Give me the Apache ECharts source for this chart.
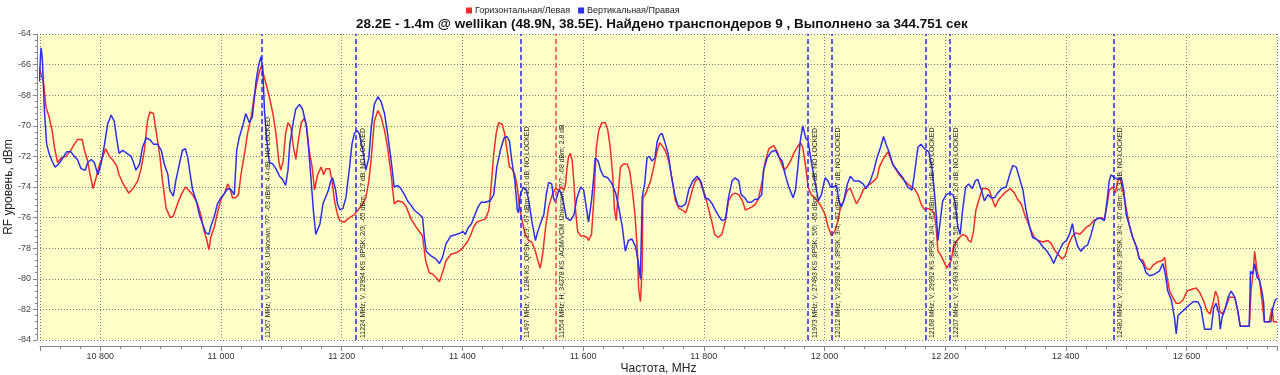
<!DOCTYPE html>
<html><head><meta charset="utf-8">
<script src="https://cdn.jsdelivr.net/npm/echarts@6/dist/echarts.min.js"></script>
<style>html,body{margin:0;padding:0;background:#fff}#c{width:1280px;height:375px}</style>
</head><body><div id="c"></div>
<script>
const titleText = '28.2E - 1.4m @ wellikan (48.9N, 38.5E). Найдено транспондеров 9 , Выполнено за 344.751 сек';
const seriesNames = ['Горизонтальная/Левая', 'Вертикальная/Правая'];
const xAxisName = 'Частота, MHz';
const yAxisName = 'RF уровень, dBm';

const freqH = [10699,10703,10706,10710,10715,10720,10724,10729,10735,10743,10751,10757,10762,10770,10773,10779,10783,10788,10793,10798,10804,10809,10815,10820,10827,10831,10838,10847,10854,10862,10867,10873,10878,10882,10888,10893,10899,10903,10909,10916,10921,10928,10934,10941,10946,10953,10961,10967,10972,10976,10980,10983,10989,10994,11000,11006,11011,11015,11019,11024,11029,11033,11039,11044,11050,11055,11060,11064,11067,11070,11075,11080,11086,11091,11096,11099,11103,11107,11111,11116,11120,11124,11128,11133,11138,11142,11146,11151,11155,11160,11166,11170,11174,11180,11184,11188,11193,11197,11204,11213,11221,11227,11235,11240,11245,11249,11254,11260,11265,11271,11276,11282,11287,11293,11301,11307,11315,11323,11334,11339,11345,11351,11356,11362,11367,11373,11381,11390,11398,11402,11408,11413,11419,11424,11430,11438,11444,11448,11452,11456,11460,11466,11470,11474,11478,11482,11487,11491,11494,11499,11504,11510,11515,11521,11525,11529,11533,11538,11543,11549,11554,11560,11564,11568,11571,11573,11576,11579,11582,11585,11587,11591,11596,11601,11607,11609,11614,11618,11622,11626,11631,11637,11641,11645,11649,11652,11655,11658,11662,11667,11673,11677,11681,11686,11690,11692,11695,11698,11699,11703,11708,11712,11717,11723,11727,11731,11736,11742,11748,11753,11759,11764,11770,11775,11781,11786,11792,11797,11802,11807,11813,11818,11824,11830,11836,11841,11847,11852,11858,11864,11869,11875,11880,11886,11891,11897,11902,11908,11916,11922,11927,11933,11938,11944,11949,11955,11960,11964,11969,11973,11978,11984,11990,11995,12001,12006,12012,12017,12021,12027,12032,12038,12043,12049,12053,12059,12064,12069,12076,12082,12087,12091,12097,12105,12110,12116,12124,12133,12141,12149,12155,12160,12166,12171,12177,12182,12185,12188,12192,12197,12203,12206,12210,12214,12218,12224,12229,12235,12239,12243,12247,12251,12257,12262,12268,12273,12279,12283,12289,12296,12301,12308,12315,12320,12326,12331,12337,12343,12348,12354,12362,12370,12376,12381,12387,12394,12399,12405,12411,12417,12423,12428,12435,12440,12446,12451,12459,12464,12468,12472,12478,12482,12486,12490,12493,12497,12502,12506,12511,12517,12522,12528,12533,12539,12545,12552,12560,12564,12567,12572,12577,12583,12588,12594,12601,12608,12616,12622,12628,12634,12639,12644,12648,12652,12655,12659,12665,12671,12680,12685,12689,12696,12704,12707,12711,12713,12717,12721,12725,12729,12737,12742,12744,12750];
const levelH = [-66.2,-66.8,-67.2,-68.8,-69.4,-70.3,-71.4,-72.4,-72.1,-72.0,-71.6,-71.2,-70.9,-70.9,-71.5,-72.3,-73.2,-74.1,-73.4,-72.6,-72.0,-71.5,-72.0,-72.2,-72.6,-73.2,-73.8,-74.4,-74.1,-73.6,-72.9,-71.6,-69.7,-69.1,-69.2,-70.5,-72.1,-73.6,-75.4,-76.0,-75.9,-75.1,-74.5,-74.0,-74.2,-74.5,-75.1,-75.9,-76.9,-77.4,-78.1,-77.3,-76.6,-75.7,-74.8,-74.4,-73.8,-74.1,-74.7,-74.7,-74.5,-73.2,-71.8,-70.5,-69.4,-68.1,-67.1,-66.4,-66.1,-66.6,-67.3,-68.1,-69.2,-70.5,-72.4,-72.9,-72.3,-70.5,-69.8,-70.1,-71.4,-72.2,-71.0,-69.8,-69.5,-70.1,-71.6,-72.7,-74.2,-73.2,-72.7,-73.2,-72.8,-72.8,-73.6,-74.9,-75.8,-76.2,-76.3,-76.0,-75.8,-75.5,-75.1,-74.7,-73.6,-72.1,-69.7,-69.0,-69.4,-70.3,-71.4,-73.2,-75.1,-74.9,-75.0,-75.3,-76.1,-76.6,-77.2,-78.8,-79.6,-79.7,-79.9,-80.2,-79.6,-78.8,-78.4,-78.3,-78.1,-77.9,-77.6,-77.2,-76.6,-76.3,-76.2,-76.1,-75.5,-73.8,-71.8,-70.5,-69.8,-69.9,-70.5,-71.6,-72.7,-72.8,-73.2,-74.0,-75.1,-76.2,-77.1,-77.5,-77.6,-78.2,-78.8,-79.3,-78.4,-76.6,-75.3,-74.5,-74.1,-74.2,-74.0,-74.2,-73.8,-72.9,-72.0,-71.8,-72.3,-73.8,-75.3,-76.9,-77.2,-77.2,-77.3,-77.5,-77.1,-74.7,-71.4,-70.3,-69.8,-69.8,-70.3,-71.4,-73.2,-75.5,-76.2,-74.5,-72.7,-72.5,-72.5,-72.9,-74.0,-75.8,-78.2,-80.6,-81.5,-79.3,-74.7,-74.5,-74.0,-73.6,-72.7,-71.6,-71.1,-71.3,-71.6,-72.3,-73.6,-74.9,-75.4,-75.5,-75.7,-75.1,-74.2,-73.6,-73.4,-74.0,-74.5,-75.3,-76.2,-77.1,-77.3,-77.1,-76.2,-74.9,-74.5,-74.4,-74.5,-74.9,-75.5,-75.4,-75.3,-75.1,-74.7,-73.6,-72.3,-71.5,-71.3,-71.7,-72.3,-72.9,-72.7,-72.3,-71.8,-71.4,-71.1,-71.4,-72.7,-74.0,-74.5,-74.7,-75.0,-75.3,-75.8,-76.6,-77.2,-76.9,-76.4,-75.3,-74.9,-74.2,-74.1,-74.7,-75.1,-74.7,-74.2,-74.0,-73.8,-73.6,-73.4,-72.7,-72.2,-71.7,-72.2,-72.7,-73.2,-73.6,-73.9,-74.1,-74.5,-75.1,-75.5,-75.4,-75.5,-75.7,-76.6,-78.2,-78.4,-78.8,-79.3,-79.4,-78.8,-77.9,-77.6,-77.3,-77.1,-77.2,-77.5,-77.6,-76.9,-75.5,-74.7,-74.1,-74.1,-74.2,-74.9,-75.3,-74.8,-74.5,-74.3,-74.1,-74.4,-74.8,-75.1,-75.7,-76.3,-76.9,-77.3,-77.5,-77.6,-77.5,-77.7,-78.1,-78.4,-78.7,-78.5,-77.7,-77.2,-77.0,-77.1,-76.9,-76.6,-76.5,-76.2,-76.1,-76.0,-76.1,-75.3,-74.2,-74.0,-74.4,-73.6,-73.4,-73.5,-74.7,-75.8,-76.6,-77.3,-77.9,-78.7,-78.8,-79.3,-79.4,-79.1,-78.9,-78.8,-78.6,-79.7,-80.8,-81.2,-81.6,-81.6,-81.4,-80.8,-80.7,-80.6,-80.9,-81.4,-82.1,-82.3,-81.6,-80.8,-81.2,-82.1,-82.3,-81.9,-81.2,-81.2,-82.1,-83.1,-83.1,-83.1,-80.8,-79.3,-78.2,-79.5,-80.1,-81.4,-82.8,-82.8,-81.9,-82.8,-82.8];

const freqV = [10699,10701,10702,10704,10707,10711,10715,10720,10725,10731,10738,10744,10751,10757,10762,10768,10775,10779,10785,10790,10796,10801,10807,10812,10818,10823,10827,10831,10837,10844,10851,10855,10859,10865,10870,10876,10882,10888,10895,10901,10906,10912,10915,10921,10925,10931,10936,10941,10945,10949,10953,10959,10964,10970,10975,10980,10983,10989,10994,11000,11006,11011,11017,11022,11026,11030,11036,11041,11047,11052,11058,11062,11066,11069,11072,11076,11080,11086,11091,11097,11102,11107,11111,11114,11120,11124,11130,11135,11141,11145,11149,11153,11157,11160,11164,11169,11174,11178,11182,11185,11190,11193,11197,11202,11207,11213,11217,11221,11225,11229,11235,11240,11245,11249,11254,11260,11265,11271,11276,11282,11287,11293,11298,11304,11309,11315,11320,11329,11334,11337,11340,11348,11356,11362,11367,11373,11381,11390,11397,11401,11405,11409,11415,11420,11426,11431,11438,11446,11452,11457,11463,11469,11474,11478,11482,11487,11491,11493,11496,11501,11506,11510,11515,11521,11525,11531,11535,11539,11543,11548,11551,11554,11560,11564,11568,11572,11579,11585,11590,11596,11601,11606,11609,11614,11618,11620,11625,11629,11634,11641,11648,11654,11659,11665,11670,11675,11681,11687,11691,11695,11698,11702,11706,11710,11714,11719,11723,11727,11731,11735,11741,11746,11752,11757,11763,11770,11775,11782,11789,11796,11802,11808,11814,11819,11825,11830,11836,11841,11847,11852,11858,11862,11868,11873,11879,11885,11890,11896,11899,11905,11912,11919,11924,11930,11935,11941,11948,11952,11956,11960,11964,11969,11973,11978,11984,11990,11995,12001,12006,12010,12015,12020,12024,12028,12032,12038,12043,12049,12057,12064,12069,12076,12082,12087,12093,12098,12102,12108,12113,12122,12130,12138,12145,12149,12155,12160,12166,12173,12178,12182,12186,12188,12192,12196,12202,12207,12213,12217,12221,12225,12229,12234,12239,12245,12250,12254,12260,12265,12271,12276,12282,12287,12294,12301,12307,12312,12318,12323,12329,12334,12340,12345,12351,12356,12362,12369,12374,12380,12384,12390,12395,12401,12406,12411,12414,12420,12425,12431,12436,12442,12448,12455,12460,12464,12469,12472,12475,12481,12486,12492,12496,12500,12506,12511,12517,12522,12528,12533,12539,12547,12555,12561,12565,12569,12575,12580,12583,12586,12591,12597,12602,12611,12619,12624,12630,12641,12645,12649,12654,12656,12659,12663,12669,12674,12680,12685,12689,12704,12706,12710,12713,12717,12721,12725,12728,12729,12740,12743,12747,12750];
const levelV = [-67.1,-65.3,-64.9,-65.7,-68.8,-71.2,-71.8,-72.3,-72.7,-72.5,-72.1,-71.7,-71.7,-72.0,-72.2,-72.8,-72.9,-72.4,-72.2,-72.4,-73.2,-72.5,-71.2,-69.9,-69.3,-69.7,-70.8,-71.8,-71.6,-71.8,-72.0,-72.4,-72.9,-72.5,-71.4,-70.8,-70.9,-71.2,-71.2,-71.6,-72.5,-73.2,-74.2,-74.6,-73.6,-72.5,-71.6,-71.5,-72.1,-73.2,-74.2,-74.9,-75.8,-76.5,-77.0,-77.1,-76.6,-75.9,-75.1,-74.7,-74.4,-74.1,-74.2,-74.5,-71.6,-70.8,-70.0,-69.2,-69.8,-69.4,-67.1,-66.1,-65.5,-66.1,-69.0,-71.0,-72.4,-72.5,-72.8,-73.3,-73.5,-73.9,-72.9,-71.2,-69.7,-68.9,-68.6,-68.9,-69.9,-71.4,-73.4,-75.5,-77.1,-77.2,-76.4,-75.1,-74.6,-74.2,-73.6,-73.4,-74.2,-75.1,-75.5,-75.4,-74.7,-72.7,-71.2,-70.5,-70.3,-70.5,-71.6,-72.9,-72.1,-70.1,-68.6,-68.1,-68.4,-69.2,-70.5,-72.3,-74.0,-73.9,-74.1,-74.5,-74.9,-75.2,-75.5,-75.8,-76.0,-77.3,-78.2,-78.5,-78.7,-79.0,-78.6,-77.7,-77.2,-77.1,-77.0,-76.9,-77.1,-76.7,-76.4,-75.9,-75.3,-75.0,-75.0,-74.9,-74.5,-72.7,-71.6,-70.8,-70.7,-71.0,-72.3,-73.6,-75.5,-75.7,-74.5,-74.0,-74.2,-74.9,-76.2,-77.5,-76.9,-76.2,-75.8,-74.5,-73.7,-73.8,-74.7,-75.0,-74.2,-74.4,-75.1,-76.0,-76.2,-75.8,-74.7,-74.0,-74.2,-75.5,-76.3,-74.9,-73.2,-72.1,-72.3,-72.9,-73.3,-73.4,-73.8,-74.4,-75.3,-76.6,-78.2,-77.5,-77.4,-77.9,-78.8,-80.0,-74.7,-73.8,-72.1,-72.0,-72.3,-72.1,-71.0,-70.6,-70.5,-71.0,-71.8,-73.2,-74.5,-75.2,-75.3,-75.1,-74.2,-73.6,-73.3,-73.7,-74.7,-74.8,-75.1,-75.5,-75.9,-76.2,-76.1,-74.7,-73.6,-73.4,-73.6,-74.5,-74.7,-75.0,-75.0,-74.8,-74.8,-74.5,-72.9,-72.1,-71.7,-71.6,-72.0,-72.3,-73.2,-74.0,-74.7,-74.2,-72.7,-71.0,-70.0,-70.8,-71.0,-72.3,-73.6,-74.9,-74.5,-73.4,-73.6,-74.0,-74.0,-73.9,-74.9,-75.3,-74.9,-73.8,-73.3,-73.6,-73.6,-73.8,-74.1,-73.6,-72.9,-72.1,-71.4,-70.7,-71.2,-71.8,-72.5,-73.0,-73.4,-74.0,-74.2,-73.2,-71.4,-71.2,-71.5,-71.7,-72.7,-74.2,-76.2,-77.5,-76.2,-74.9,-74.5,-74.4,-74.5,-75.1,-76.6,-77.1,-75.5,-74.0,-73.8,-74.1,-73.6,-73.5,-74.2,-74.9,-74.5,-74.7,-74.7,-74.4,-74.1,-74.0,-73.2,-72.6,-72.7,-73.4,-74.2,-75.5,-76.6,-77.3,-77.4,-77.6,-77.9,-78.2,-78.5,-79.0,-78.6,-78.1,-77.7,-77.5,-77.1,-76.4,-77.1,-77.9,-78.2,-77.9,-77.8,-77.1,-76.2,-76.0,-76.1,-76.2,-74.7,-73.6,-73.2,-73.4,-73.5,-73.4,-74.2,-75.8,-76.6,-77.3,-77.9,-78.7,-79.0,-79.6,-79.8,-79.7,-79.5,-79.0,-79.7,-80.8,-81.4,-82.5,-83.6,-82.4,-82.2,-82.0,-81.8,-81.5,-81.5,-81.9,-83.3,-83.3,-81.9,-81.6,-82.3,-83.3,-82.5,-82.1,-81.2,-80.8,-81.2,-82.1,-83.1,-83.1,-79.5,-79.7,-79.0,-79.9,-80.1,-80.8,-81.6,-82.8,-82.8,-81.9,-81.4,-81.3];

const markerFreqs = [11067, 11224, 11497, 11554, 11973, 12012, 12168, 12207, 12480];
const markerPol = ['V', 'V', 'V', 'H', 'V', 'V', 'V', 'V', 'V'];
const markerTexts = [
  '11067 MHz; V; 10093 KS ;Unknown; ?/?; -63 dBm; 4.4 dB; NO LOCKED',
  '11224 MHz; V; 22994 KS ;8PSK; 2/3; -65 dBm; 1.7 dB; NO LOCKED',
  '11497 MHz; V; 1284 KS ;QPSK; 2/3; -67 dBm; 10.0 dB; NO LOCKED',
  '11554 MHz; H; 34278 KS ;ACM/VCM ;Unknown; ?/?; -68 dBm; 2.8 dB',
  '11973 MHz; V; 27493 KS ;8PSK; 5/6; -65 dBm; 0.2 dB; NO LOCKED',
  '12012 MHz; V; 29992 KS ;8PSK; 3/4; -67 dBm; 0.7 dB; NO LOCKED',
  '12168 MHz; V; 29992 KS ;8PSK; 3/4; -65 dBm; 0.6 dB; NO LOCKED',
  '12207 MHz; V; 27493 KS ;8PSK; 5/6; -68 dBm; 2.6 dB; NO LOCKED',
  '12480 MHz; V; 29993 KS ;8PSK; 3/4; -67 dBm; 3.3 dB; NO LOCKED'
];

const RED = '#f22c2c', BLUE = '#2d2df2';
const dataH = freqH.map((f, i) => [f, levelH[i]]);
const dataV = freqV.map((f, i) => [f, levelV[i]]);

const chart = echarts.init(document.getElementById('c'), null, {renderer: 'canvas'});
chart.setOption({
  animation: false,
  backgroundColor: '#ffffff',
  textStyle: {fontFamily: 'Liberation Sans, Arial, sans-serif'},
  title: {
    text: titleText, left: 351, top: 12,
    textStyle: {fontSize: 13.5, fontWeight: 'bold', color: '#111', fontFamily: 'Liberation Sans'}
  },
  legend: {
    left: 461, top: 1, itemWidth: 6, itemHeight: 6, itemGap: 8, icon: 'rect',
    textStyle: {fontSize: 9, color: '#222', padding: [0, 0, 0, -2]},
    data: seriesNames
  },
  grid: {left: 40, right: 3, top: 34, bottom: 35, show: true, backgroundColor: '#ffffc8', borderWidth: 0, outerBoundsMode: 'none', containLabel: false},
  xAxis: {
    type: 'value', min: 10700, max: 12750, splitNumber: 10, offset: 6,
    name: xAxisName, nameLocation: 'middle', nameGap: 17, nameMoveOverlap: false,
    nameTextStyle: {fontSize: 12, color: '#222', verticalAlign: 'top'},
    axisLine: {show: true, lineStyle: {color: '#888'}},
    axisTick: {show: true, length: 5, lineStyle: {color: '#888'}},
    minorTick: {show: true, splitNumber: 6, length: 3, lineStyle: {color: '#888'}},
    splitLine: {show: true, lineStyle: {type: [1, 2], color: '#777'}},
    axisLabel: {
      fontSize: 9, color: '#333', margin: 6, showMinLabel: false, showMaxLabel: false,
      formatter: v => String(v).replace(/\B(?=(\d{3})+(?!\d))/g, ' ')
    }
  },
  yAxis: {
    type: 'value', min: -84, max: -64, interval: 2, offset: 3,
    name: yAxisName, nameLocation: 'middle', nameGap: 22, nameRotate: 90, nameMoveOverlap: false,
    nameTextStyle: {fontSize: 12, color: '#222'},
    axisLine: {show: true, lineStyle: {color: '#888'}},
    axisTick: {show: true, length: 4, lineStyle: {color: '#888'}},
    minorTick: {show: true, splitNumber: 5, length: 2, lineStyle: {color: '#888'}},
    splitLine: {show: true, lineStyle: {type: [1, 2], color: '#777'}},
    axisLabel: {fontSize: 9, color: '#444', margin: 6}
  },
  series: [
    {
      name: seriesNames[0], type: 'line', data: dataH, showSymbol: false, symbol: 'none',
      lineStyle: {color: RED, width: 1.5}, itemStyle: {color: RED}, z: 3
    },
    {
      name: seriesNames[1], type: 'line', data: dataV, showSymbol: false, symbol: 'none',
      lineStyle: {color: BLUE, width: 1.5}, itemStyle: {color: BLUE}, z: 4,
      markLine: {
        silent: true, symbol: ['none', 'none'], animation: false,
        lineStyle: {type: [5, 3], width: 1.5},
        label: {show: true, position: 'insideStartBottom', fontSize: 6.9, color: '#222', distance: [2, 3]},
        emphasis: {disabled: true},
        data: markerFreqs.map((f, i) => ({
          xAxis: f,
          lineStyle: {color: markerPol[i] === 'H' ? '#ff4545' : '#2424ff'},
          label: {formatter: markerTexts[i]}
        }))
      }
    }
  ]
});
</script>
</body></html>
